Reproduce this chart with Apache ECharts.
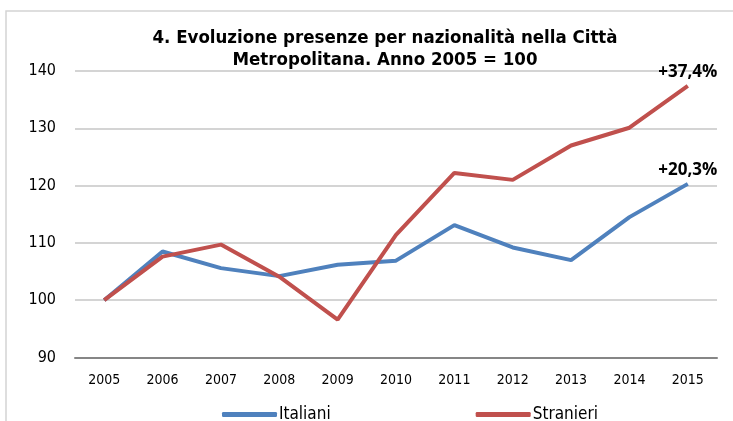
<!DOCTYPE html>
<html>
<head>
<meta charset="utf-8">
<script src="https://cdn.jsdelivr.net/npm/echarts@6/dist/echarts.min.js"></script>
<style>
  html, body { margin: 0; padding: 0; background: #fff; }
  #chart { width: 733px; height: 421px; }
</style>
</head>
<body>
<div id="chart"></div>
<script>
const years = ['2005', '2006', '2007', '2008', '2009', '2010', '2011', '2012', '2013', '2014', '2015'];
const italiani = [100, 108.5, 105.6, 104.2, 106.2, 106.9, 113.1, 109.2, 107.0, 114.5, 120.3];
const stranieri = [100, 107.6, 109.7, 104.1, 96.6, 111.4, 122.2, 121.0, 127.0, 130.1, 137.4];
const endLabels = ['+20,3%', '+37,4%'];

const narrow = "'Liberation Sans Narrow', 'Arial Narrow', 'DejaVu Sans Condensed', sans-serif";

// etichetta solo sull'ultimo punto
function lastLabel(text) {
    return {
        show: true,
        position: 'top',
        distance: 5,
        fontFamily: "'Open Sans', 'Liberation Sans', sans-serif",
        fontWeight: 'bold',
        fontSize: 17,
        color: '#000',
        formatter: function (p) {
            return p.dataIndex === years.length - 1 ? text : '';
        }
    };
}

function PaintChart() {
    const chart = echarts.init(document.getElementById('chart'));
    const option = {
        animation: false,
        title: {
            text: '4. Evoluzione presenze per nazionalità nella Città\nMetropolitana. Anno 2005 = 100',
            left: 380,
            textAlign: 'center',
            top: 22,
            textStyle: {
                fontFamily: narrow,
                fontWeight: 'bold',
                fontSize: 18.5,
                lineHeight: 22,
                color: '#000'
            }
        },
        graphic: [{
            type: 'rect',
            shape: { x: 6, y: 11, width: 800, height: 500 },
            style: { fill: 'none', stroke: '#d4d4d4', lineWidth: 1.5 },
            z: -1
        }],
        legend: {
            data: ['Italiani', 'Stranieri'],
            left: 217,
            top: 401,
            icon: 'roundRect',
            itemWidth: 55,
            itemHeight: 5,
            itemGap: 145,
            textStyle: {
                fontFamily: narrow,
                fontSize: 17,
                color: '#000',
                padding: [0, 0, 0, -3]
            }
        },
        grid: {
            left: 75,
            right: 16,
            top: 71,
            bottom: 63.5
        },
        xAxis: {
            type: 'category',
            data: years,
            axisLabel: {
                fontFamily: narrow,
                fontSize: 14,
                color: '#000',
                margin: 16
            },
            axisLine: {
                lineStyle: { color: '#868686', width: 2 }
            },
            axisTick: { show: false }
        },
        yAxis: {
            type: 'value',
            min: 90,
            max: 140,
            interval: 10,
            axisLabel: {
                fontFamily: narrow,
                fontSize: 16,
                color: '#000',
                margin: 19
            },
            axisLine: { show: false },
            axisTick: { show: false },
            splitLine: {
                lineStyle: { color: '#c6c6c6', width: 1.5 }
            }
        },
        series: [
            {
                type: 'line',
                name: 'Italiani',
                data: italiani,
                showSymbol: true,
                symbol: 'circle',
                symbolSize: 0,
                color: '#4f81bd',
                lineStyle: { width: 4, color: '#4f81bd' },
                label: lastLabel(endLabels[0]),
                z: 2
            },
            {
                type: 'line',
                name: 'Stranieri',
                data: stranieri,
                showSymbol: true,
                symbol: 'circle',
                symbolSize: 0,
                color: '#c0504d',
                lineStyle: { width: 4, color: '#c0504d' },
                label: lastLabel(endLabels[1]),
                z: 3
            }
        ]
    };
    chart.setOption(option);
}
PaintChart();
</script>
</body>
</html>
